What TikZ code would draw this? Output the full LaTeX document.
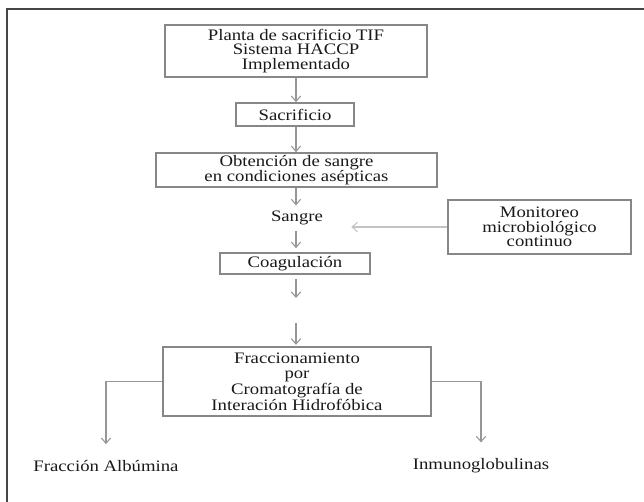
\documentclass[tikz,border=0pt]{standalone}
\usepackage{fontspec}
\setmainfont{Liberation Serif}[FakeStretch=1.17]
\usetikzlibrary{arrows.meta}
\definecolor{boxgray}{RGB}{135,135,135}
\definecolor{arrgray}{RGB}{150,150,150}
\definecolor{lightarr}{RGB}{195,195,195}
\definecolor{framegray}{RGB}{70,70,70}
\definecolor{txt}{RGB}{25,25,25}
\begin{document}
\begin{tikzpicture}[x=0.75pt,y=-0.75pt,
  every node/.style={font=\fontsize{12pt}{11pt}\selectfont, text=txt},
  stepbox/.style={draw=boxgray, line width=1.3pt, rectangle, inner sep=0pt, align=center},
  plain/.style={inner sep=3pt, align=center},
  conn/.style={draw=arrgray, line width=0.8pt, -{Straight Barb[length=4pt,width=7pt]}},
  lconn/.style={draw=lightarr, line width=0.8pt, -{Straight Barb[length=4pt,width=7pt]}}]
\useasboundingbox (0,0) rectangle (644,502);
\fill[white] (0,0) rectangle (644,502);
\draw[framegray, line width=1.5pt] (7,502) -- (7,9) -- (644,9);

\node[stepbox, minimum width=196.5pt, minimum height=39pt] (top) at (296,51)
  {Planta de sacrificio TIF\\Sistema HACCP\\Implementado};
\node[stepbox, minimum width=88.5pt, minimum height=17.25pt] (sac) at (295,114.5) {Sacrificio};
\node[stepbox, minimum width=210.75pt, minimum height=25.5pt] (obt) at (296.5,170)
  {Obtención de sangre\\en condiciones asépticas};
\node[plain] (san) at (297,218) {Sangre};
\node[stepbox, minimum width=112.5pt, minimum height=15.75pt] (coa) at (295,263.5) {Coagulación};
\coordinate (c1) at (296,298);
\coordinate (c2) at (296,323);
\node[stepbox, minimum width=201pt, minimum height=51.75pt] (fra) at (297,381.5)
  {Fraccionamiento\\por\\Cromatografía de\\Interación Hidrofóbica};
\node[stepbox, minimum width=137.25pt, minimum height=40.5pt] (mon) at (539.5,227)
  {Monitoreo\\microbiológico\\continuo};
\node[plain] (alb) at (106,466) {Fracción Albúmina};
\node[plain] (inm) at (481,466) {Inmunoglobulinas};

\draw[conn] (top.south -| 296,0) -- (sac.north -| 296,0);
\draw[conn] (sac.south -| 296,0) -- (obt.north -| 296,0);
\draw[conn, shorten >=1pt] (obt.south -| 296,0) -- (san.north -| 296,0);
\draw[conn, shorten <=1pt, shorten >=3pt] (san.south -| 296,0) -- (coa.north -| 296,0);
\draw[conn, shorten <=3pt] (coa.south -| 296,0) -- (c1);
\draw[conn, shorten >=1pt] (c2) -- (fra.north -| 296,0);
\draw[lconn, shorten >=18pt] (mon.west) -- (san.east |- mon.west);
\draw[conn, shorten >=9pt] (fra.west) -| (alb.north);
\draw[conn, shorten >=9pt] (fra.east) -| (inm.north);
\end{tikzpicture}
\end{document}
